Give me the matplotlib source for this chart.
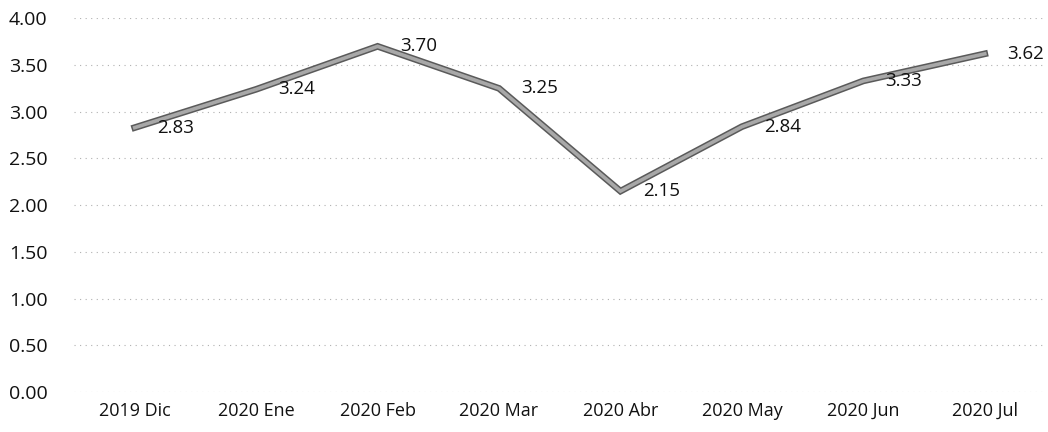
import matplotlib
matplotlib.use("Agg")
import matplotlib.pyplot as plt
import matplotlib.patheffects as pe

# datos
meses = ["2019 Dic", "2020 Ene", "2020 Feb", "2020 Mar",
         "2020 Abr", "2020 May", "2020 Jun", "2020 Jul"]
valores = [2.83, 3.24, 3.70, 3.25, 2.15, 2.84, 3.33, 3.62]
y_ticks = [0.0, 0.5, 1.0, 1.5, 2.0, 2.5, 3.0, 3.5, 4.0]

plt.rcParams["font.family"] = ["Open Sans", "DejaVu Sans"]

fig = plt.figure(figsize=(10.48, 4.32), dpi=100)
ax = fig.add_axes([0.0706, 0.0926, 0.927, 0.865])

x = list(range(len(meses)))

ax.plot(
    x, valores,
    color="#a8a8a8", lw=2.6, solid_joinstyle="miter",
    path_effects=[pe.Stroke(linewidth=4.8, foreground="#5a5a5a"), pe.Normal()],
    zorder=3
)

for xi, v in zip(x, valores):
    ax.annotate(
        f"{v:.2f}", (xi, v),
        xytext=(16, 0), textcoords="offset points",
        ha="left", va="center", fontsize=13.5, color="#111111", zorder=4
    )

ax.set_xlim(-0.5, len(meses) - 0.5)
ax.set_ylim(0, 4)
ax.set_yticks(y_ticks)
ax.set_yticklabels([f"{t:.2f}" for t in y_ticks], fontsize=14, color="#111111")
ax.set_xticks(x)
ax.set_xticklabels(meses, fontsize=13, color="#111111")

ax.grid(axis="y", color="#b0b0b0", lw=0.8, linestyle=(0, (1, 4)))
ax.set_axisbelow(True)
ax.tick_params(length=0, pad=7)
ax.tick_params(axis="y", pad=19)
for s in ax.spines.values():
    s.set_visible(False)

plt.savefig("out.png", dpi=100)
plt.close()
